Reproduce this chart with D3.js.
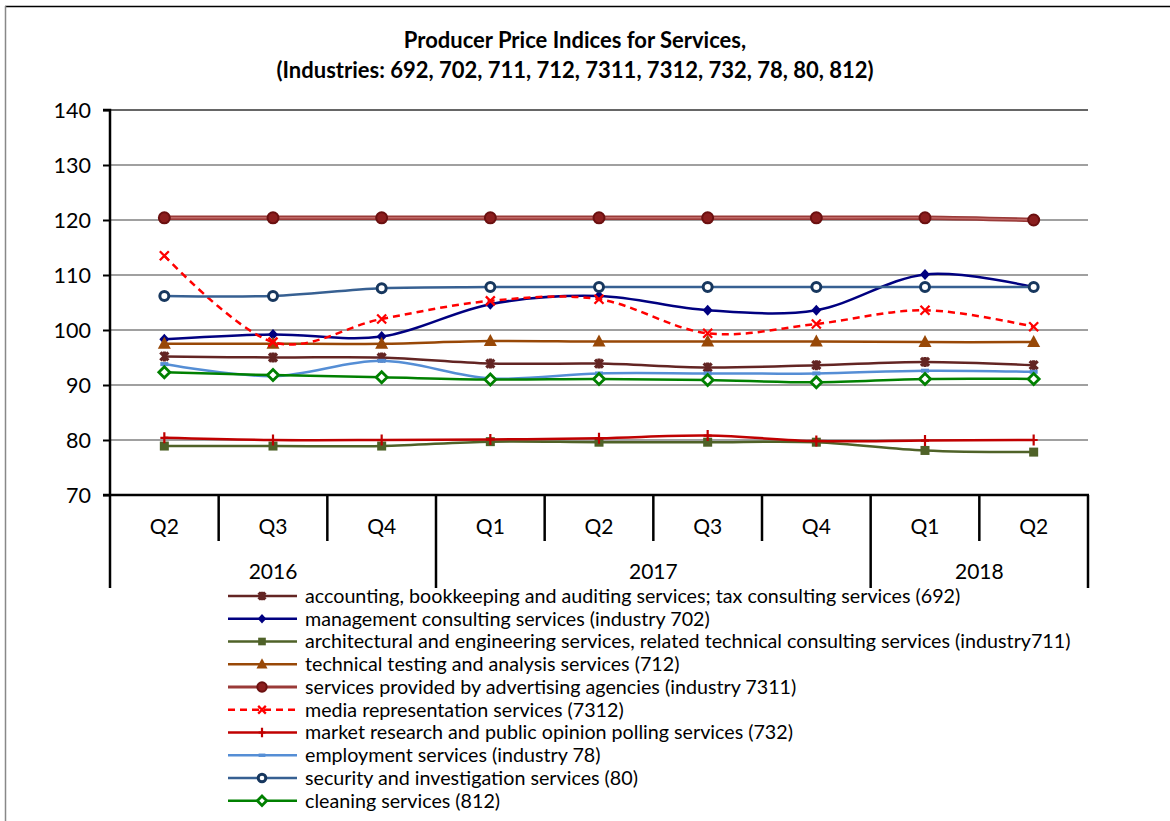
<!DOCTYPE html>
<html><head><meta charset="utf-8">
<script src="https://cdn.jsdelivr.net/npm/d3@7/dist/d3.min.js"></script>
<style>
html,body{margin:0;padding:0;background:#fff;}
svg text{font-family:Lato,"Open Sans",sans-serif;fill:#000;}
</style></head>
<body>
<svg id="chart" width="1170" height="821"></svg>
<script>
const quarters = ["Q2","Q3","Q4","Q1","Q2","Q3","Q4","Q1","Q2"];
const periodYears = ["2016","2016","2016","2017","2017","2017","2017","2018","2018"];
const yearLabels = ["2016","2017","2018"];
const yTicks = [70,80,90,100,110,120,130,140];

const labels = [
 "accounting, bookkeeping and auditing services; tax consulting services (692)",
 "management consulting services (industry 702)",
 "architectural and engineering services, related technical consulting services (industry711)",
 "technical testing and analysis services (712)",
 "services provided by advertising agencies (industry 7311)",
 "media representation services (7312)",
 "market research and public opinion polling services (732)",
 "employment services (industry 78)",
 "security and investigation services (80)",
 "cleaning services (812)"
];
const s692  = [95.2, 95.0, 95.0, 93.9, 93.9, 93.2, 93.6, 94.2, 93.6];
const s702  = [98.3, 99.2, 98.8, 104.7, 106.2, 103.6, 103.6, 110.1, 107.8];
const s711  = [78.9, 78.9, 78.9, 79.7, 79.6, 79.6, 79.6, 78.1, 77.8];
const s712  = [97.5, 97.5, 97.5, 98.0, 97.9, 97.9, 97.9, 97.8, 97.8];
const s7311 = [120.4, 120.4, 120.4, 120.4, 120.4, 120.4, 120.4, 120.4, 120.0];
const s7312 = [113.5, 97.8, 102.0, 105.3, 105.6, 99.4, 101.1, 103.6, 100.6];
const s732  = [80.4, 80.0, 80.0, 80.1, 80.3, 80.8, 79.8, 79.9, 80.0];
const s78   = [93.8, 91.6, 94.4, 91.2, 92.1, 92.1, 92.1, 92.6, 92.4];
const s80   = [106.2, 106.2, 107.6, 107.8, 107.8, 107.8, 107.8, 107.8, 107.8];
const s812  = [92.3, 91.8, 91.4, 91.0, 91.1, 90.9, 90.5, 91.1, 91.1];
const seriesValues = [s692, s702, s711, s712, s7311, s7312, s732, s78, s80, s812];

const styles = [
 {color:"#632523", marker:"star", mcolor:"#632523", w:2.5},
 {color:"#000080", marker:"diamond", mcolor:"#000080", w:2.5},
 {color:"#4F6228", marker:"square", mcolor:"#4F6228", w:2.5},
 {color:"#984807", marker:"triangle", mcolor:"#984807", w:2.5},
 {color:"#9A3A38", marker:"circleFilled", mcolor:"#7F1A1A", w:4.5},
 {color:"#FF0000", marker:"x", mcolor:"#FF0000", w:2.5, dash:"7,5"},
 {color:"#C00000", marker:"plus", mcolor:"#C00000", w:2.5},
 {color:"#558ED5", marker:"dash", mcolor:"#558ED5", w:2.5},
 {color:"#376092", marker:"circleHollow", mcolor:"#17375E", w:2.5},
 {color:"#008000", marker:"diamondHollow", mcolor:"#008000", w:2.5}
];

const svg = d3.select("#chart");
const L = 110, R = 1088, T = 110, B = 495;

// outer frame
svg.append("line").attr("x1",5).attr("x2",1170).attr("y1",6.5).attr("y2",6.5).attr("stroke","#000").attr("stroke-width",1.5);
svg.append("line").attr("x1",5.5).attr("x2",5.5).attr("y1",6).attr("y2",821).attr("stroke","#888").attr("stroke-width",1.5);

// title
const title = svg.append("text").attr("text-anchor","middle").attr("font-weight","bold").attr("font-size",22);
title.append("tspan").attr("x",575).attr("y",48).text("Producer Price Indices for Services,");
title.append("tspan").attr("x",575).attr("y",78).text("(Industries: 692, 702, 711, 712, 7311, 7312, 732, 78, 80, 812)");

const x = d3.scaleBand().domain(d3.range(quarters.length)).range([L, R]).paddingInner(0).paddingOuter(0);
const y = d3.scaleLinear().domain([70,140]).range([B, T]);
const cx = i => x(i) + x.bandwidth()/2;

// gridlines
svg.append("g").selectAll("line").data(yTicks.filter(v=>v>70)).join("line")
  .attr("x1",L).attr("x2",R).attr("y1",d=>y(d)).attr("y2",d=>y(d))
  .attr("stroke",d=>d===140?"#333":"#808080").attr("stroke-width",1.5);

// y axis
const yAxis = d3.axisLeft(y).tickValues(yTicks).tickSize(7).tickPadding(12).tickFormat(d3.format("d"));
const ga = svg.append("g").attr("transform",`translate(${L},0)`).call(yAxis);
ga.select(".domain").attr("stroke","#000").attr("stroke-width",2.5).attr("d",`M-7,${T}H0V${B}`);
ga.selectAll(".tick line").attr("stroke","#000").attr("stroke-width",2);
ga.selectAll(".tick text").attr("font-size",21.5).attr("font-family","Lato").attr("fill","#000").attr("dy","0.35em");

// x axis
svg.append("line").attr("x1",L-7).attr("x2",R+1).attr("y1",B).attr("y2",B).attr("stroke","#000").attr("stroke-width",2.5);
const edges = d3.range(quarters.length+1).map(i => i < quarters.length ? x(i) : x(quarters.length-1)+x.bandwidth());
const yearEdgeIdx = [0];
periodYears.forEach((yy,i)=>{ if(i>0 && yy!==periodYears[i-1]) yearEdgeIdx.push(i); });
yearEdgeIdx.push(quarters.length);
svg.append("g").selectAll("line").data(edges.map((e,i)=>({e,i}))).join("line")
  .attr("x1",d=>d.e).attr("x2",d=>d.e).attr("y1",B)
  .attr("y2",d=>yearEdgeIdx.includes(d.i)?588:541)
  .attr("stroke","#000").attr("stroke-width",2.5);
svg.append("g").selectAll("text").data(quarters).join("text")
  .attr("x",(d,i)=>cx(i)).attr("y",527).attr("dy","0.35em").attr("text-anchor","middle").attr("font-size",21).text(d=>d);
svg.append("g").selectAll("text").data(yearLabels).join("text")
  .attr("x",(d,k)=>(edges[yearEdgeIdx[k]]+edges[yearEdgeIdx[k+1]])/2).attr("y",572).attr("dy","0.35em")
  .attr("text-anchor","middle").attr("font-size",21).text(d=>d);

// marker drawing
function drawMarker(g, type, px, py, color, scale=1){
  const s = scale;
  switch(type){
    case "star":
      g.append("path").attr("d",`M${px-4*s},${py-4*s}L${px+4*s},${py+4*s}M${px+4*s},${py-4*s}L${px-4*s},${py+4*s}M${px},${py-5*s}L${px},${py+5*s}`)
        .attr("stroke",color).attr("stroke-width",3.2).attr("fill","none"); break;
    case "diamond":
      g.append("path").attr("d",`M${px},${py-5.5*s}L${px+5*s},${py}L${px},${py+5.5*s}L${px-5*s},${py}Z`).attr("fill",color); break;
    case "square":
      g.append("rect").attr("x",px-4.5*s).attr("y",py-4.5*s).attr("width",9*s).attr("height",9*s).attr("fill",color); break;
    case "triangle":
      g.append("path").attr("d",`M${px},${py-7*s}L${px+6.5*s},${py+5*s}L${px-6.5*s},${py+5*s}Z`).attr("fill",color); break;
    case "circleFilled":
      g.append("circle").attr("cx",px).attr("cy",py).attr("r",5.5*s).attr("fill","#8B1E1E").attr("stroke","#6B1010").attr("stroke-width",2); break;
    case "x":
      g.append("path").attr("d",`M${px-4.5*s},${py-4.5*s}L${px+4.5*s},${py+4.5*s}M${px+4.5*s},${py-4.5*s}L${px-4.5*s},${py+4.5*s}`)
        .attr("stroke",color).attr("stroke-width",2.3).attr("fill","none"); break;
    case "plus":
      g.append("path").attr("d",`M${px-4*s},${py}L${px+4*s},${py}M${px},${py-5.5*s}L${px},${py+5.5*s}`)
        .attr("stroke",color).attr("stroke-width",2.2).attr("fill","none"); break;
    case "dash":
      g.append("rect").attr("x",px-4*s).attr("y",py-2*s).attr("width",8*s).attr("height",4*s).attr("fill",color); break;
    case "circleHollow":
      g.append("circle").attr("cx",px).attr("cy",py).attr("r",4.5*s).attr("fill","#fff").attr("stroke",color).attr("stroke-width",3); break;
    case "diamondHollow":
      g.append("path").attr("d",`M${px},${py-5.5*s}L${px+5.5*s},${py}L${px},${py+5.5*s}L${px-5.5*s},${py}Z`)
        .attr("fill","#fff").attr("stroke",color).attr("stroke-width",2.8); break;
  }
}

const line = d3.line().x((d,i)=>cx(i)).y(d=>y(d)).curve(d3.curveCardinal.tension(0));
seriesValues.forEach((vals,k)=>{
  const st = styles[k];
  const g = svg.append("g");
  g.append("path").attr("d",line(vals)).attr("fill","none").attr("stroke",st.color)
    .attr("stroke-width",st.w).attr("stroke-dasharray",st.dash||null).attr("stroke-linejoin","round");
  if(k===4){
    g.append("path").attr("d",line(vals)).attr("fill","none").attr("stroke","#C06A68").attr("stroke-width",1.4);
  }
  vals.forEach((v,i)=>drawMarker(g, st.marker, cx(i), y(v), st.mcolor));
});

// legend
const lg = svg.append("g");
labels.forEach((lab,k)=>{
  const st = styles[k];
  const ly = 596 + k*22.75;
  lg.append("line").attr("x1",228).attr("x2",297).attr("y1",ly).attr("y2",ly).attr("stroke",st.color)
    .attr("stroke-width",st.w>3?3:2.5).attr("stroke-dasharray",st.dash||null);
  drawMarker(lg, st.marker, 262, ly, st.mcolor, 0.85);
  lg.append("text").attr("x",305).attr("y",ly).attr("dy","0.35em").attr("font-size",19.7).text(lab);
});
</script>
</body></html>
